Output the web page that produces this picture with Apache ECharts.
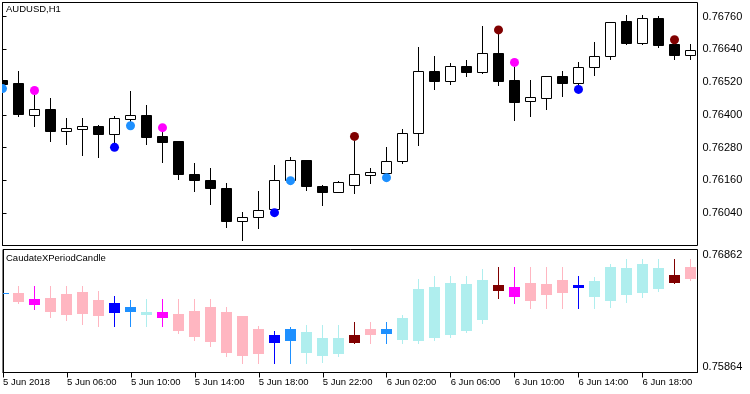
<!DOCTYPE html>
<html><head><meta charset="utf-8">
<script src="https://cdn.jsdelivr.net/npm/echarts@6/dist/echarts.min.js"></script>
<style>html,body{margin:0;padding:0;background:#fff}#c{width:750px;height:394px}</style>
</head><body><div id="c"></div>
<script>
// ---------- DATA ----------
const symbolTitle = 'AUDUSD,H1';
const indicatorTitle = 'CaudateXPeriodCandle';

// main chart candles (bar 0 = 5 Jun 02:00, hourly)
const priceOpen  = [0.76526,0.76515,0.76400,0.76420,0.76342,0.76349,0.76361,0.76331,0.76386,0.76401,0.76321,0.76303,0.76185,0.76163,0.76134,0.76012,0.76027,0.76056,0.76160,0.76236,0.76141,0.76118,0.76144,0.76181,0.76186,0.76230,0.76334,0.76559,0.76525,0.76580,0.76558,0.76627,0.76526,0.76451,0.76462,0.76543,0.76517,0.76576,0.76616,0.76744,0.76662,0.76755,0.76658,0.76620];
const priceHigh  = [0.76528,0.76559,0.76471,0.76460,0.76387,0.76390,0.76362,0.76394,0.76486,0.76437,0.76337,0.76303,0.76222,0.76204,0.76152,0.76046,0.76120,0.76215,0.76244,0.76236,0.76145,0.76159,0.76306,0.76204,0.76284,0.76350,0.76647,0.76614,0.76588,0.76602,0.76727,0.76701,0.76574,0.76526,0.76543,0.76559,0.76595,0.76665,0.76741,0.76767,0.76764,0.76760,0.76665,0.76660];
const priceLow   = [0.76512,0.76395,0.76359,0.76304,0.76293,0.76252,0.76245,0.76295,0.76377,0.76293,0.76227,0.76165,0.76121,0.76073,0.75989,0.75943,0.75985,0.76050,0.76158,0.76124,0.76071,0.76118,0.76113,0.76150,0.76186,0.76223,0.76290,0.76495,0.76514,0.76543,0.76554,0.76510,0.76382,0.76395,0.76422,0.76468,0.76504,0.76545,0.76604,0.76659,0.76659,0.76648,0.76604,0.76604];
const priceClose = [0.76514,0.76402,0.76420,0.76340,0.76351,0.76361,0.76331,0.76387,0.76401,0.76318,0.76300,0.76183,0.76161,0.76132,0.76011,0.76027,0.76053,0.76162,0.76236,0.76139,0.76117,0.76155,0.76182,0.76189,0.76232,0.76334,0.76559,0.76523,0.76580,0.76558,0.76627,0.76523,0.76446,0.76464,0.76543,0.76517,0.76576,0.76617,0.76741,0.76662,0.76755,0.76655,0.76618,0.76638];

// signal dots on the main chart
const dotBars   = [0,2,7,8,10,17,18,22,24,31,32,36,42];
const dotPrices = [0.76496,0.76489,0.76281,0.76360,0.76353,0.76042,0.76159,0.76321,0.76170,0.76711,0.76592,0.76493,0.76675];
const dotKinds  = ['dod','mag','blu','dod','mag','blu','dod','mar','dod','mar','mag','blu','mar'];

// indicator candles
const subKind  = ['dod','dn','mag','dn','dn','dn','dn','blu','dod','up','mag','dn','dn','dn','dn','dn','dn','blu','dod','up','up','up','mar','dn','dod','up','up','up','up','up','up','mar','mag','dn','dn','dn','blu','up','up','up','up','up','mar','dn'];
const subOpen  = [0.76511,0.76506,0.76457,0.76468,0.76498,0.76514,0.76449,0.76355,0.76363,0.76338,0.76352,0.76336,0.76360,0.76393,0.76352,0.76320,0.76215,0.76112,0.76128,0.76031,0.76007,0.76023,0.76166,0.76215,0.76185,0.76136,0.76128,0.76152,0.76176,0.76209,0.76298,0.76571,0.76554,0.76587,0.76579,0.76611,0.76554,0.76484,0.76452,0.76500,0.76516,0.76549,0.76652,0.76716];
const subHigh  = [0.76513,0.76563,0.76563,0.76563,0.76563,0.76563,0.76522,0.76482,0.76449,0.76457,0.76457,0.76457,0.76457,0.76457,0.76393,0.76320,0.76239,0.76198,0.76231,0.76247,0.76247,0.76247,0.76271,0.76271,0.76271,0.76328,0.76619,0.76643,0.76643,0.76643,0.76700,0.76724,0.76724,0.76724,0.76724,0.76724,0.76643,0.76635,0.76741,0.76781,0.76781,0.76781,0.76781,0.76781];
const subLow   = [0.76511,0.76427,0.76379,0.76317,0.76290,0.76255,0.76241,0.76241,0.76241,0.76241,0.76241,0.76185,0.76128,0.76079,0.75998,0.75942,0.75942,0.75942,0.75942,0.75942,0.75950,0.75998,0.76104,0.76104,0.76104,0.76104,0.76104,0.76128,0.76152,0.76193,0.76266,0.76468,0.76427,0.76387,0.76387,0.76387,0.76387,0.76387,0.76395,0.76435,0.76476,0.76524,0.76589,0.76614];
const subClose = [0.76513,0.76444,0.76419,0.76363,0.76336,0.76344,0.76330,0.76425,0.76393,0.76352,0.76314,0.76209,0.76160,0.76123,0.76031,0.76007,0.76023,0.76166,0.76215,0.76190,0.76142,0.76142,0.76112,0.76176,0.76215,0.76304,0.76538,0.76554,0.76587,0.76579,0.76611,0.76533,0.76484,0.76452,0.76500,0.76516,0.76571,0.76603,0.76716,0.76708,0.76741,0.76708,0.76597,0.76630];

// axis ticks
const priceTicks = [0.76040,0.76160,0.76280,0.76400,0.76520,0.76640,0.76760];
const subTicks = [0.75864,0.76862];
const timeTickBars = [0,4,8,12,16,20,24,28,32,36,40];
const timeTickLabels = ['5 Jun 2018','5 Jun 06:00','5 Jun 10:00','5 Jun 14:00','5 Jun 18:00','5 Jun 22:00','6 Jun 02:00','6 Jun 06:00','6 Jun 10:00','6 Jun 14:00','6 Jun 18:00'];

// ---------- STYLE ----------
const kindColor = {dn:'#FFB6C1', up:'#AFEEEE', mag:'#FF00FF', blu:'#0000FF', dod:'#1E90FF', mar:'#800000'};
const FONT = 'Liberation Sans';
const X_MAX = 695 / 16;   // 16 px per bar
const mainRange = [0.759218, 0.768112];
const subRange = [0.75864, 0.76862];

const mainData = priceOpen.map((o, i) => [i, o, priceHigh[i], priceLow[i], priceClose[i]]);
const subData = subOpen.map((o, i) => [i, o, subHigh[i], subLow[i], subClose[i], i]);
const dotData = dotBars.map((b, i) => [b, dotPrices[i], i]);

function crispX(x) { return Math.round(x - 0.5) + 0.5; }

function mainCandle(params, api) {
  const k = api.value(0), o = api.value(1), h = api.value(2), l = api.value(3), c = api.value(4);
  const cx = crispX(api.coord([k, o])[0]);
  const yO = Math.round(api.coord([k, o])[1]), yC = Math.round(api.coord([k, c])[1]);
  const yH = Math.round(api.coord([k, h])[1]), yL = Math.round(api.coord([k, l])[1]);
  const top = Math.min(yO, yC), bot = Math.max(yO, yC);
  const up = c >= o;
  return { type: 'group', children: [
    { type: 'line', shape: { x1: cx, y1: yH, x2: cx, y2: yL + 1 }, style: { stroke: '#000', lineWidth: 1 } },
    { type: 'rect', shape: { x: cx - 5, y: top + 0.5, width: 10, height: Math.max(bot - top, 0) },
      style: { fill: up ? '#fff' : '#000', stroke: '#000', lineWidth: 1 } }
  ]};
}

function subCandle(params, api) {
  const k = api.value(0), o = api.value(1), h = api.value(2), l = api.value(3), c = api.value(4);
  const col = kindColor[subKind[api.value(5)]];
  const cx = crispX(api.coord([k, o])[0]);
  const yO = Math.round(api.coord([k, o])[1]), yC = Math.round(api.coord([k, c])[1]);
  const yH = Math.round(api.coord([k, h])[1]), yL = Math.round(api.coord([k, l])[1]);
  const top = Math.min(yO, yC), bot = Math.max(yO, yC);
  return { type: 'group', children: [
    { type: 'line', shape: { x1: cx, y1: yH, x2: cx, y2: yL + 1 }, style: { stroke: col, lineWidth: 1 } },
    { type: 'rect', shape: { x: cx - 5.5, y: top, width: 11, height: bot - top + 1 }, style: { fill: col } }
  ]};
}

function dot(params, api) {
  const p = api.coord([api.value(0), api.value(1)]);
  return { type: 'circle', shape: { cx: crispX(p[0]), cy: p[1], r: 4.5 },
    style: { fill: kindColor[dotKinds[api.value(2)]] } };
}

const chart = echarts.init(document.getElementById('c'), null, { renderer: 'canvas' });
chart.setOption({
  animation: false,
  backgroundColor: '#fff',
  title: [
    { text: symbolTitle, left: 6, top: 4, padding: 0, textStyle: { fontFamily: FONT, fontSize: 9.5, fontWeight: 'normal', color: '#000' } },
    { text: indicatorTitle, left: 6, top: 253, padding: 0, textStyle: { fontFamily: FONT, fontSize: 9.5, fontWeight: 'normal', color: '#000' } }
  ],
  grid: [
    { left: 2.5, top: 2.5, width: 695, height: 243, show: true, borderColor: '#000', borderWidth: 1, backgroundColor: 'transparent' },
    { left: 2.5, top: 249.5, width: 695, height: 123, show: true, borderColor: '#000', borderWidth: 1, backgroundColor: 'transparent' }
  ],
  xAxis: [
    { type: 'value', gridIndex: 0, min: 0, max: X_MAX, show: false },
    { type: 'value', gridIndex: 1, min: 0, max: X_MAX, position: 'bottom',
      axisLine: { show: true, lineStyle: { color: '#000', width: 1 } },
      axisTick: { show: true, customValues: timeTickBars, length: 5, lineStyle: { color: '#000' } },
      axisLabel: { show: true, customValues: timeTickBars, align: 'left', margin: 5,
        fontFamily: FONT, fontSize: 9.5, color: '#000',
        formatter: v => { const i = timeTickBars.indexOf(Math.round(v)); return i >= 0 ? timeTickLabels[i] : ''; } },
      splitLine: { show: false } }
  ],
  yAxis: [
    { type: 'value', gridIndex: 0, position: 'right', min: mainRange[0], max: mainRange[1],
      axisLine: { show: true, lineStyle: { color: '#000', width: 1 } },
      axisTick: { show: true, customValues: priceTicks, length: 4, lineStyle: { color: '#000' } },
      axisLabel: { show: true, customValues: priceTicks, margin: 5, fontFamily: FONT, fontSize: 11, color: '#000',
        formatter: v => v.toFixed(5) },
      splitLine: { show: false } },
    { type: 'value', gridIndex: 1, position: 'right', min: subRange[0], max: subRange[1],
      axisLine: { show: true, lineStyle: { color: '#000', width: 1 } },
      axisTick: { show: true, customValues: subTicks, length: 4, lineStyle: { color: '#000' } },
      axisLabel: { show: true, customValues: subTicks, margin: 5, fontFamily: FONT, fontSize: 11, color: '#000',
        verticalAlignMinLabel: 'bottom', verticalAlignMaxLabel: 'top',
        formatter: v => v.toFixed(5) },
      splitLine: { show: false } }
  ],
  series: [
    { type: 'custom', xAxisIndex: 0, yAxisIndex: 0, clip: true, renderItem: mainCandle, data: mainData, encode: { x: 0, y: [1, 2, 3, 4] }, z: 2 },
    { type: 'custom', xAxisIndex: 0, yAxisIndex: 0, clip: true, renderItem: dot, data: dotData, encode: { x: 0, y: 1 }, z: 3 },
    { type: 'custom', xAxisIndex: 1, yAxisIndex: 1, clip: true, renderItem: subCandle, data: subData, encode: { x: 0, y: [1, 2, 3, 4] }, z: 2 }
  ]
});
</script></body></html>
